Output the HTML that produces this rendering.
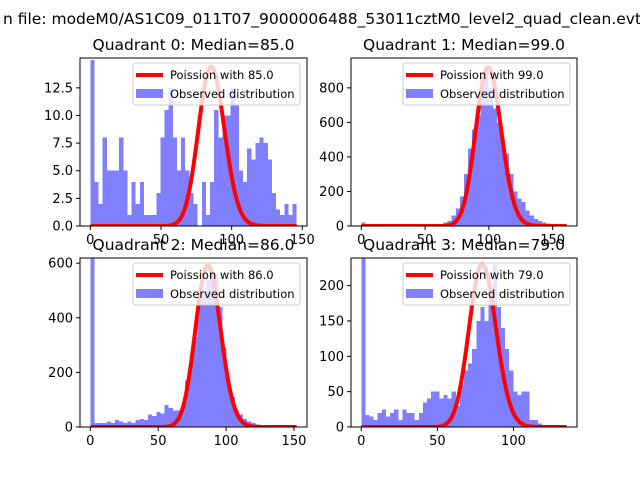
<!DOCTYPE html>
<html><head><meta charset="utf-8"><style>
body{margin:0;background:#fff;width:640px;height:480px;overflow:hidden}
svg{font-family:"DejaVu Sans","Liberation Sans",sans-serif}
</style></head><body>
<svg id="fig" width="640" height="480">
<text x="322" y="24" text-anchor="middle" font-size="15.5">n file: modeM0/AS1C09_011T07_9000006488_53011cztM0_level2_quad_clean.evt</text>
</svg>
<script>
const q0Counts=[15,4,2,8,5,5,5,8,5,1,4,2,4,1,1,1,3,8,10.5,12.5,8,5,8,5,3,2,0,4,1,4,10.5,8,10,10,12.5,11,5,4,7,6,7.5,8,7.5,6,3,1.5,1,2,1,2];
const q1Counts=[20,0,0,0,0,0,0,0,0,0,0,0,0,0,0,3,5,5,8,10,20,30,60,100,170,300,450,560,640,870,900,800,680,600,500,420,300,200,160,140,90,60,40,30,20,15,10,5,5,3];
const q2Counts=[620,15,15,15,20,15,25,20,15,20,15,25,30,25,45,40,55,50,80,70,60,60,75,170,250,330,450,500,540,580,560,440,290,160,110,60,45,30,20,15,10,8,5,3,2,1,0,0,0,0];
const q3Counts=[240,17,15,10,20,25,15,20,25,10,25,20,20,10,20,35,40,50,50,40,45,40,50,30,60,80,90,110,150,170,150,200,230,170,140,110,80,50,45,50,50,10,10,5,3,0,0,0,0,0];
const medians=[85.0,99.0,86.0,79.0];
const dataMax=[146,161,152,135];
const yMax=[15.2,973,619,239];
const peakVals=[14.4,920,590,230];
const xTickVals=[[0,50,100,150],[0,50,100,150],[0,50,100,150],[0,50,100]];
const yTickVals=[[0,2.5,5,7.5,10,12.5],[0,200,400,600,800],[0,200,400,600],[0,50,100,150,200]];
const yTickLabels=[["0.0","2.5","5.0","7.5","10.0","12.5"],["0","200","400","600","800"],["0","200","400","600"],["0","50","100","150","200"]];
const allCounts=[q0Counts,q1Counts,q2Counts,q3Counts];
const boxes=[[80,58,307,226],[351,58,577,226],[80,258,307,427],[351,258,577,427]];
const NS="http://www.w3.org/2000/svg";
const fig=document.getElementById('fig');
function mk(tag,attrs,parent){const e=document.createElementNS(NS,tag);for(const k in attrs)e.setAttribute(k,attrs[k]);(parent||fig).appendChild(e);return e;}
function lgam(x){x+=1;return (x-0.5)*Math.log(x)-x+0.5*Math.log(2*Math.PI)+1/(12*x)-1/(360*x*x*x)-Math.log(x-1);}
function lpmf(k,l){return k*Math.log(l)-l-lgam(k);}
for(let p=0;p<4;p++){
  const [L,T,R,B]=boxes[p];
  const counts=allCounts[p],n=counts.length,mx=dataMax[p],bw=mx/n;
  const x0=-0.05*mx,x1=mx*1.05;
  const sx=v=>L+(v-x0)/(x1-x0)*(R-L);
  const sy=v=>B-v/yMax[p]*(B-T);
  const g=mk('g',{});
  
  
  const cp=mk('clipPath',{id:'c'+p},g);mk('rect',{x:L,y:T,width:R-L,height:B-T},cp);
  const plot=mk('g',{'clip-path':'url(#c'+p+')'},g);
  const bars=mk('g',{'shape-rendering':'crispEdges'},plot);
  for(let i=0;i<n;i++){
    const xa=sx(i*bw),xb=sx((i+1)*bw),yt=sy(counts[i]);
    const r=mk('rect',{x:xa,y:yt,width:xb-xa,height:B-yt,fill:'rgba(0,0,255,0.5)'},bars);
    
    
  }
  const lam=medians[p],ref=lpmf(lam,lam);let d='';
  for(let i=0;i<=300;i++){const k=mx*i/300;const y=peakVals[p]*Math.exp(lpmf(k,lam)-ref);d+=(i?'L':'M')+sx(k).toFixed(2)+','+sy(y).toFixed(2);}
  const c=mk('path',{d:d,fill:'none',stroke:'#ff0000','stroke-width':4},plot);
  
  
  mk('rect',{x:L,y:T,width:R-L,height:B-T,fill:'none',stroke:'#000','stroke-width':1},g);
  xTickVals[p].forEach(v=>{const x=sx(v);mk('line',{x1:x,x2:x,y1:B,y2:B+4,stroke:'#000'},g);
    const t=mk('text',{x:x,y:B+18,'text-anchor':'middle','font-size':13},g);t.textContent=v;
    
    });
  yTickVals[p].forEach((v,i)=>{const y=sy(v);mk('line',{x1:L-4,x2:L,y1:y,y2:y,stroke:'#000'},g);
    const t=mk('text',{x:L-7,y:y+4.5,'text-anchor':'end','font-size':13},g);t.textContent=yTickLabels[p][i];
    
    });
  const tt=mk('text',{x:(L+R)/2,y:T-8,'text-anchor':'middle','font-size':15.5},g);
  tt.textContent='Quadrant '+p+': Median='+medians[p].toFixed(1);
  
  
  const lg=mk('g',{},g);
  
  
  const lx=R-174,ly=T+5;
  mk('rect',{x:lx,y:ly,width:167,height:42,rx:3,fill:'rgba(255,255,255,0.8)',stroke:'#ccc'},lg);
  mk('line',{x1:lx+3,x2:lx+30,y1:ly+12,y2:ly+12,stroke:'#ff0000','stroke-width':4},lg);
  mk('rect',{x:lx+3,y:ly+26,width:27,height:9,fill:'rgba(0,0,255,0.5)'},lg);
  const t1=mk('text',{x:lx+37,y:ly+16,'font-size':11.5},lg);t1.textContent='Poission with '+medians[p].toFixed(1);
  const t2=mk('text',{x:lx+37,y:ly+35,'font-size':11.5},lg);t2.textContent='Observed distribution';
}
</script>
</body></html>
